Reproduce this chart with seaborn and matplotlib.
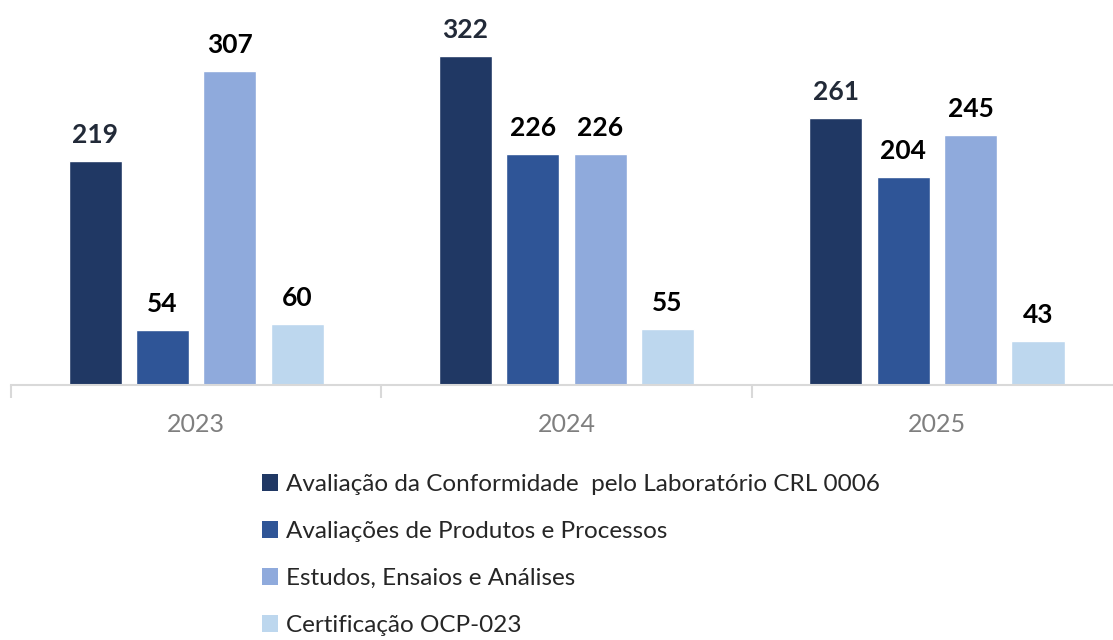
import pandas as pd
import numpy as np
import seaborn as sns
import matplotlib.pyplot as plt
from matplotlib.patches import Patch

years = ["2023", "2024", "2025"]
services = [
    "Avaliação da Conformidade  pelo Laboratório CRL 0006",
    "Avaliações de Produtos e Processos",
    "Estudos, Ensaios e Análises",
    "Certificação OCP-023",
]
lab_crl = [219, 322, 261]
prod_proc = [54, 226, 204]
estudos = [307, 226, 245]
ocp = [60, 55, 43]

colors = ["#203864", "#2F5597", "#8FAADC", "#BDD7EE"]
label_colors = ["#222a38", "#000000", "#000000", "#000000"]

df = pd.DataFrame({
    "Ano": years * 4,
    "Serviço": np.repeat(services, 3),
    "Valor": lab_crl + prod_proc + estudos + ocp,
})

sns.set_style("white")
plt.rcParams['font.family'] = ['Lato', 'DejaVu Sans']

# pixel geometry of the reference (1113 x 640)
left_px, base_px, cat_px = 11.0, 385, 370.35

fig = plt.figure(figsize=(11.13, 6.4), dpi=100)
ax = fig.add_axes([left_px / 1113, 1 - base_px / 640, 1 - left_px / 1113, base_px / 640])

sns.barplot(data=df, x="Ano", y="Valor", hue="Serviço", hue_order=services,
            palette=colors, width=0.728, gap=0.213, saturation=1,
            legend=False, ax=ax)

for cont, lc in zip(ax.containers, label_colors):
    ax.bar_label(cont, padding=10, fontsize=19, fontweight='bold', color=lc)

ax.set_xlabel("")
ax.set_ylabel("")
ax.set_yticks([])
for s in ["top", "right", "left"]:
    ax.spines[s].set_visible(False)
ax.spines["bottom"].set_color("#d9d9d9")
ax.spines["bottom"].set_linewidth(1.5)
ax.tick_params(axis='x', which='major', length=0, labelsize=18,
               labelcolor="#7f7f7f", pad=20)
# category dividers (the last one falls outside the figure)
ax.set_xticks([-0.5, 0.5, 1.5], minor=True)
ax.tick_params(axis='x', which='minor', bottom=True, length=9, width=1.5,
               color="#d9d9d9", direction='out')

# limits last, set_xticks may widen them
ax.set_ylim(0, base_px / 1.022)
ax.set_xlim(-0.5, -0.5 + (1113 - left_px) / cat_px)

handles = [Patch(facecolor=c, edgecolor='none') for c in colors]
fig.legend(handles, services, loc='upper left', bbox_to_anchor=(262 / 1113, 1 - 474 / 640),
           frameon=False, fontsize=17.5, handlelength=0.65, handleheight=0.65,
           handletextpad=0.35, labelspacing=1.07, borderaxespad=0, borderpad=0)

plt.savefig("out.png", dpi=100)
plt.close()
